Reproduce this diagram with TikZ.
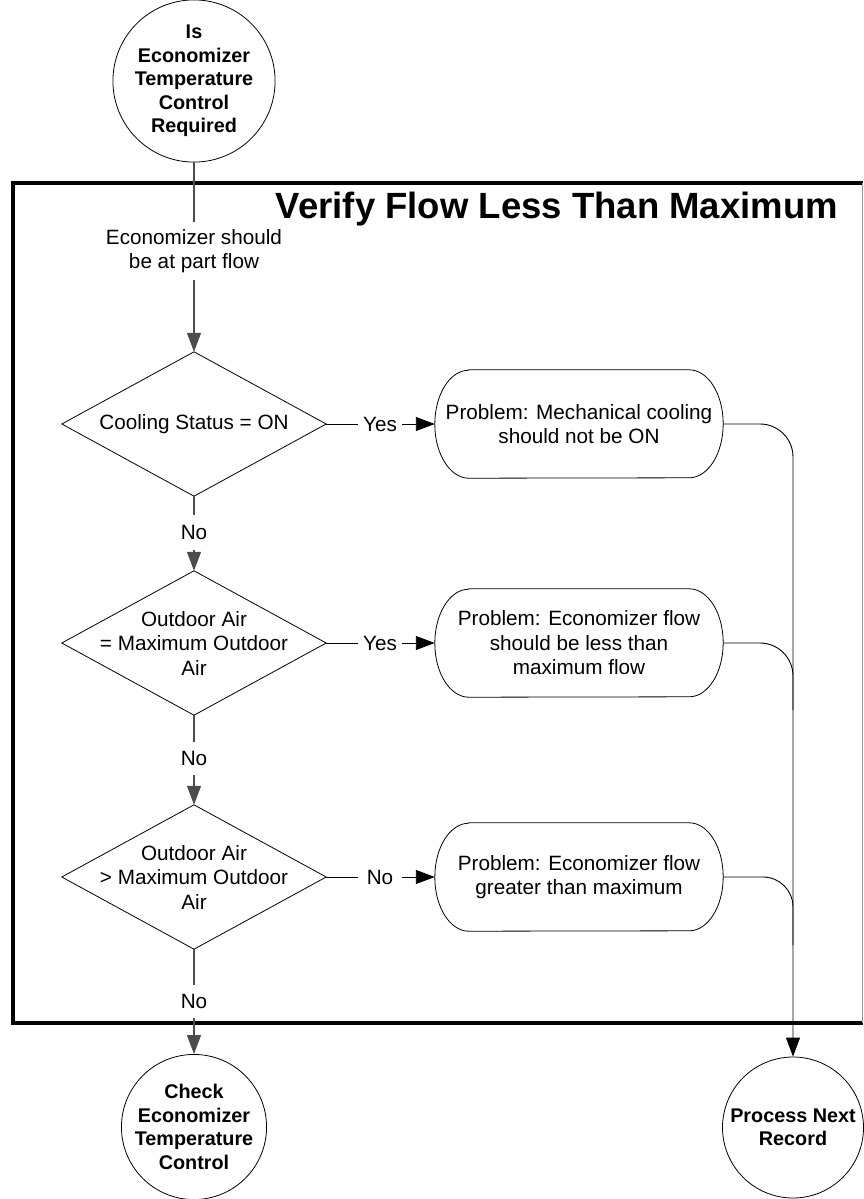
\documentclass[tikz,border=0pt]{standalone}
\usepackage{fontspec}
\setmainfont{Liberation Sans}
\usetikzlibrary{arrows.meta}
\newcommand\mystadium[1]{\draw[shapeline] ([xshift=34pt]#1.north west) -- ([xshift=-34pt]#1.north east) arc[start angle=90, end angle=-90, x radius=34pt, y radius=54pt] -- ([xshift=34pt]#1.south west) arc[start angle=270, end angle=90, x radius=34pt, y radius=54pt] -- cycle;}
\newcommand\mydiamond[1]{\draw[shapeline] (#1.north) -- (#1.east) -- (#1.south) -- (#1.west) -- cycle;}
\begin{document}
\begin{tikzpicture}[x=1pt,y=-1pt,
  body/.style={font=\fontsize{20.7}{24.5}\selectfont, align=center},
  term/.style={circle, draw, line width=0.8pt, minimum size=144pt, inner sep=0pt, align=center, font=\fontsize{19.8}{23.4}\selectfont\bfseries},
  decbox/.style={body, minimum width=264pt, minimum height=144pt, inner sep=0pt},
  probbox/.style={body, minimum width=288pt, minimum height=108pt, inner sep=0pt},
  lbl/.style={body, inner sep=0pt},
  conn/.style={line width=0.9pt},
  vconn/.style={line width=1.2pt, draw=black!70},
  arr/.style={-{Triangle[length=19pt,width=14pt]}},
  shapeline/.style={line width=0.8pt}
]
\useasboundingbox (0,0) rectangle (863,1199);
% frame
\draw[line width=4.5pt] (863,183) -- (13,183) -- (13,1023) -- (863,1023);
\draw[black!40, line width=1pt] (862,183) -- (862,1023);
\node[anchor=base east, font=\fontsize{36.5}{40}\selectfont\bfseries, inner sep=0pt] (title) at (838,218) {Verify Flow Less Than Maximum};
% nodes
\node[term] (start) at (194,81) {Is\\Economizer\\Temperature\\Control\\Required};
\node[lbl, minimum height=58pt] (econ) at (194,251) {Economizer should\\be at part flow};
\node[decbox] (d1) at (194,424) {Cooling Status = ON};
\node[decbox] (d2) at (194,643) {Outdoor Air\\= Maximum Outdoor\\Air};
\node[decbox] (d3) at (194,877) {Outdoor Air\\> Maximum Outdoor\\Air};
\mydiamond{d1}
\mydiamond{d2}
\mydiamond{d3}
\node[lbl, minimum height=35pt] (n1) at (194,532.5) {No};
\node[lbl, minimum height=33pt] (n2) at (194,758.5) {No};
\node[lbl, minimum height=33pt] (n3) at (194,1001.5) {No};
\node[probbox] (b1) at (579,424) {Problem: Mechanical cooling\\should not be ON};
\node[probbox] (b2) at (579,643) {Problem: Economizer flow\\should be less than\\maximum flow};
\node[probbox] (b3) at (579,877) {Problem: Economizer flow\\greater than maximum};
\mystadium{b1}
\mystadium{b2}
\mystadium{b3}
\node[lbl, minimum width=44pt] (y1) at (380,424) {Yes};
\node[lbl, minimum width=44pt] (y2) at (380,643) {Yes};
\node[lbl, minimum width=44pt] (y3) at (380,877) {No};
\node[term] (endL) at (194,1127) {Check\\Economizer\\Temperature\\Control};
\node[term, minimum size=141pt] (endR) at (793,1127.5) {Process Next\\Record};
% main column connectors
\draw[vconn] (start) -- (econ);
\draw[vconn, arr] (econ) -- (d1.north);
\draw[vconn] (d1.south) -- (n1);
\draw[vconn, arr] (n1) -- (d2.north);
\draw[vconn] (d2.south) -- (n2);
\draw[vconn, arr] (n2) -- (d3.north);
\draw[vconn] (d3.south) -- (n3);
\draw[vconn, arr] (n3) -- (endL);
% side connectors
\draw[conn] (d1.east) -- (y1);
\draw[conn, arr] (y1) -- (b1.west);
\draw[conn] (d2.east) -- (y2);
\draw[conn, arr] (y2) -- (b2.west);
\draw[conn] (d3.east) -- (y3);
\draw[conn, arr] (y3) -- (b3.west);
% right collector
\coordinate (j2) at (793,710);
\coordinate (j3) at (793,945);
\draw[conn, arr, rounded corners=33pt] (b1.east) -| (endR.north);
\draw[conn, rounded corners=33pt] (b2.east) -| (j2);
\draw[conn, rounded corners=30pt] (b3.east) -| (j3);
\end{tikzpicture}
\end{document}
